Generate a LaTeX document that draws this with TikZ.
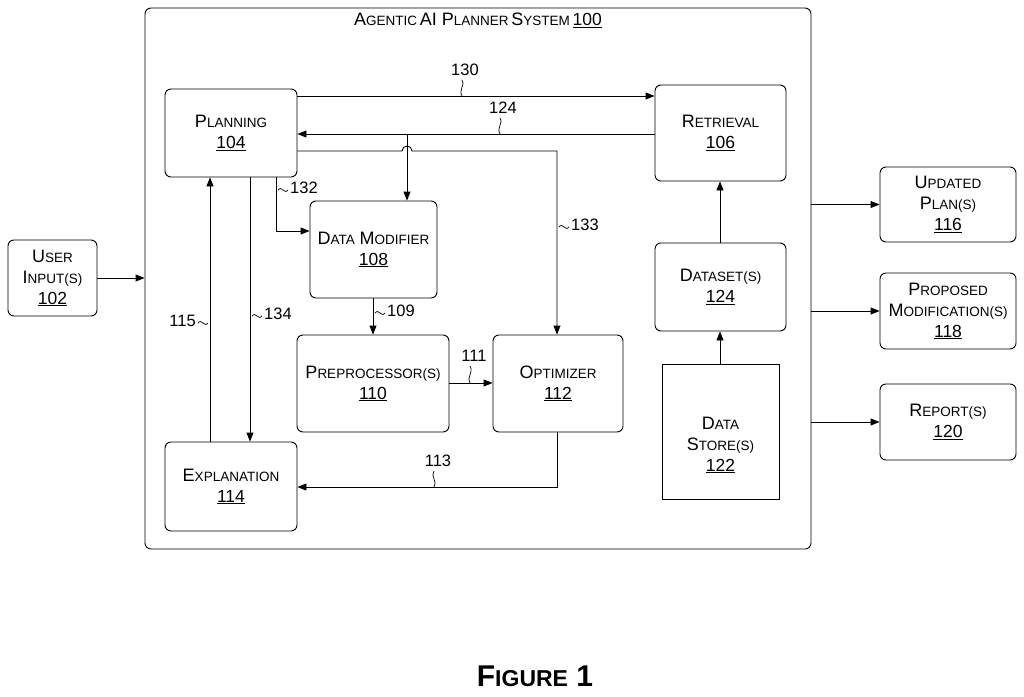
\documentclass[tikz,border=0pt]{standalone}
\usepackage{fontspec}
\setmainfont{Liberation Sans}
\usetikzlibrary{arrows.meta,shapes.geometric}
\newcommand{\SC}[2]{{\fontsize{18}{21}\selectfont #1}{\fontsize{13.5}{21}\selectfont #2}}
\newcommand{\NUM}[1]{{\fontsize{17.5}{21}\selectfont\underline{#1}}}
\begin{document}
\begin{tikzpicture}[x=1pt,y=-1pt,
  box/.style={draw,line width=0.9pt,rounded corners=6pt,align=center,inner sep=0pt,font=\fontsize{17}{21}\selectfont},
  arr/.style={-{Triangle[length=9pt,width=7pt]},line width=0.9pt},
  lbl/.style={font=\fontsize{16.5}{18}\selectfont,inner sep=1pt},
  sq/.style={line width=0.7pt}]
\useasboundingbox (0,0) rectangle (1024,696);
\def\bx#1#2#3#4#5#6{\node[box,minimum width=#4-#2,minimum height=#5-#3] (#1) at ({(#2+#4)/2},{(#3+#5)/2}) {#6};}
\bx{sys}{145}{8}{811}{549}{}
\node at (478,20) {\SC{A}{GENTIC} \SC{AI P}{LANNER} \SC{S}{YSTEM} \NUM{100}};
\bx{user}{8}{240}{97}{316}{\SC{U}{SER}\\\SC{I}{NPUT(S)}\\\NUM{102}}
\bx{plan}{165}{89}{297}{177}{\SC{P}{LANNING}\\\NUM{104}}
\bx{retr}{655}{85}{786}{181}{\SC{R}{ETRIEVAL}\\\NUM{106}}
\bx{dm}{310}{201}{437}{298}{\SC{D}{ATA} \SC{M}{ODIFIER}\\\NUM{108}}
\bx{pre}{297}{335}{449}{432}{\SC{P}{REPROCESSOR(S)}\\\NUM{110}}
\bx{opt}{493}{335}{623}{432}{\SC{O}{PTIMIZER}\\\NUM{112}}
\bx{expl}{165}{442}{297}{531}{\SC{E}{XPLANATION}\\\NUM{114}}
\bx{ds}{655}{243}{786}{331}{\SC{D}{ATASET(S)}\\\NUM{124}}
\bx{up}{880}{167}{1016}{242}{\SC{U}{PDATED}\\\SC{P}{LAN(S)}\\\NUM{116}}
\bx{prop}{880}{273}{1016}{349}{\SC{P}{ROPOSED}\\\SC{M}{ODIFICATION(S)}\\\NUM{118}}
\bx{rep}{880}{384}{1016}{460}{\SC{R}{EPORT(S)}\\\NUM{120}}
\node[cylinder,shape border rotate=90,draw,line width=0.9pt,minimum width=117pt,minimum height=135pt,aspect=0.6,inner sep=0pt] (store) at (720.5,432.5) {};
\node[align=center,font=\fontsize{17}{21}\selectfont,inner sep=0pt] (storet) at (720.5,445) {\SC{D}{ATA}\\\SC{S}{TORE(S)}\\\NUM{122}};
\node[font=\fontsize{30}{34}\selectfont\bfseries] (fig) at (535,676) {F{\fontsize{23}{26}\selectfont IGURE} 1};
% connectors
\draw[arr] (user.east) -- (sys.west|-user.east);
\draw[arr] (sys.east|-up.west) -- (up.west);
\draw[arr] (sys.east|-prop.west) -- (prop.west);
\draw[arr] (sys.east|-rep.west) -- (rep.west);
\draw[arr] (plan.east|-0,96) -- (retr.west|-0,96);
\draw[arr] (retr.west|-0,134) -- (plan.east|-0,134);
\coordinate (br) at (407,134);
\draw[arr] (br) -- (dm.north-|br);
\draw[arr] (plan.east|-0,151) -- (402,151) arc (180:360:5) -- (557,151) -- (opt.north-|557,0);
\draw[arr] (plan.south-|276,0) -- (276,231) -- (dm.west|-0,231);
\draw[arr] (dm.south-|373,0) -- (pre.north-|373,0);
\draw[arr] (pre.east|-0,383) -- (opt.west|-0,383);
\draw[arr] (opt.south-|557,0) -- (557,487) -- (expl.east|-0,487);
\draw[arr] (expl.north-|210,0) -- (plan.south-|210,0);
\draw[arr] (plan.south-|250,0) -- (expl.north-|250,0);
\draw[arr] (ds.north-|720,0) -- (retr.south-|720,0);
\draw[arr] (store.top-|720,0) -- (ds.south-|720,0);
% labels
\node[lbl] (l130) at (465,70) {130};
\draw[sq] (462,80) .. controls (466,84) and (458,90) .. (462,96);
\node[lbl] (l124) at (503,108) {124};
\draw[sq] (500,118) .. controls (504,122) and (496,128) .. (500,134);
\newcommand{\tl}[2]{\draw[sq] (#1,#2) .. controls (#1+4,#2-5) and (#1+6,#2+5) .. (#1+10,#2);}
\tl{278}{190}\node[lbl,anchor=west] (l132) at (289,188) {132};
\tl{559}{227}\node[lbl,anchor=west] (l133) at (570,225) {133};
\tl{375}{313}\node[lbl,anchor=west] (l109) at (386,311) {109};
\tl{252}{316}\node[lbl,anchor=west] (l134) at (263,314) {134};
\tl{198}{323}\node[lbl,anchor=east] (l115) at (197,321) {115};
\draw[sq] (470,383) .. controls (466,378) and (474,372) .. (470,366);\node[lbl] (l111) at (474,356) {111};
\draw[sq] (434,487) .. controls (438,482) and (430,476) .. (434,471);\node[lbl] (l113) at (438,461) {113};
\end{tikzpicture}
\end{document}
